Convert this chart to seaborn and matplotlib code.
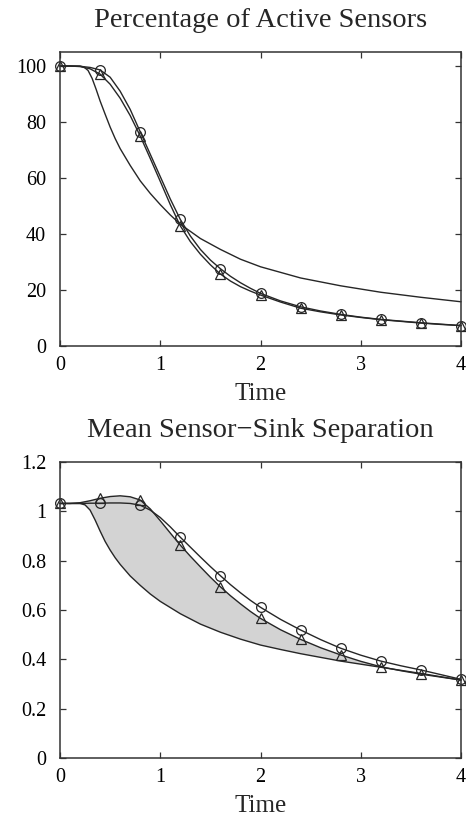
import numpy as np
import matplotlib
matplotlib.use("Agg")
import matplotlib.pyplot as plt
import seaborn as sns

# ---------------- data ----------------
t_grid = [0.0, 0.1, 0.2, 0.3, 0.4, 0.5, 0.6, 0.7, 0.8, 0.9, 1.0,
          1.1, 1.2, 1.3, 1.4, 1.5, 1.6, 1.7, 1.8, 1.9, 2.0,
          2.2, 2.4, 2.6, 2.8, 3.0, 3.2, 3.4, 3.6, 3.8, 4.0]
marker_times = [0.0, 0.4, 0.8, 1.2, 1.6, 2.0, 2.4, 2.8, 3.2, 3.6, 4.0]

# Top panel: percentage of active sensors
active_circle = [100, 100, 99.9, 99.5, 98.6, 96.0, 91.0, 84.5, 76.5, 68.5, 60.5,
                 52.5, 45.2, 39.3, 34.5, 30.7, 27.6, 24.9, 22.6, 20.6, 18.8,
                 16.1, 14.0, 12.5, 11.3, 10.3, 9.5, 8.9, 8.3, 7.8, 7.3]
active_triangle = [100, 100, 99.8, 99.0, 97.1, 93.5, 88.5, 82.3, 75.0, 67.0, 58.8,
                   50.5, 42.9, 37.3, 32.8, 29.0, 25.7, 23.2, 21.2, 19.6, 18.2,
                   15.7, 13.5, 12.2, 11.1, 10.2, 9.4, 8.8, 8.2, 7.7, 7.3]
t_plain_top = [0.0, 0.2, 0.24, 0.28, 0.32, 0.36, 0.4, 0.45, 0.5, 0.55, 0.6, 0.7, 0.8,
               0.9, 1.0, 1.1, 1.2, 1.4, 1.6, 1.8, 2.0, 2.4, 2.8, 3.2, 3.6, 4.0]
active_plain = [100, 100, 99.6, 98.4, 95.6, 91.7, 87.5, 82.8, 78.2, 74.1, 70.5, 64.5, 59.0,
                54.5, 50.5, 46.8, 43.5, 38.4, 34.5, 31.0, 28.3, 24.3, 21.5, 19.2, 17.4, 15.8]

# Bottom panel: mean sensor-sink separation
sep_circle = [1.032, 1.032, 1.032, 1.033, 1.033, 1.034, 1.034, 1.032, 1.025, 1.005, 0.975,
              0.937, 0.895, 0.855, 0.815, 0.776, 0.739, 0.703, 0.670, 0.639, 0.611,
              0.562, 0.519, 0.480, 0.445, 0.417, 0.393, 0.374, 0.357, 0.338, 0.319]
sep_triangle = [1.032, 1.032, 1.035, 1.043, 1.053, 1.060, 1.063, 1.059, 1.046, 1.010, 0.962,
                0.912, 0.863, 0.818, 0.775, 0.733, 0.694, 0.658, 0.625, 0.594, 0.566,
                0.520, 0.481, 0.447, 0.418, 0.392, 0.370, 0.354, 0.340, 0.328, 0.316]
t_plain_bot = [0.0, 0.2, 0.25, 0.3, 0.35, 0.4, 0.45, 0.5, 0.55, 0.6, 0.7, 0.8, 0.9, 1.0,
               1.2, 1.4, 1.6, 1.8, 2.0, 2.2, 2.4, 2.8, 3.2, 3.6, 4.0]
sep_plain = [1.032, 1.032, 1.026, 1.005, 0.965, 0.920, 0.878, 0.843, 0.812, 0.785, 0.738,
             0.700, 0.665, 0.635, 0.585, 0.543, 0.510, 0.482, 0.458, 0.440, 0.423, 0.393,
             0.368, 0.343, 0.316]

titles = ["Percentage of Active Sensors", "Mean Sensor\u2212Sink Separation"]
xlabel = "Time"
x_ticks = [0, 1, 2, 3, 4]
top_yticks = [0, 20, 40, 60, 80, 100]
bot_yticks = [0, 0.2, 0.4, 0.6, 0.8, 1.0, 1.2]
bot_yticklabels = ["0", "0.2", "0.4", "0.6", "0.8", "1", "1.2"]

# ---------------- style ----------------
sns.set_style("ticks")
plt.rcParams["font.family"] = ["Liberation Serif", "DejaVu Serif"]

LINE = "#262626"
fig = plt.figure(figsize=(4.66, 8.18), dpi=100)
ax1 = fig.add_axes([0.1288, 0.577, 0.8605, 0.3594])
ax2 = fig.add_axes([0.1288, 0.0733, 0.8605, 0.3619])

mark_idx = [t_grid.index(m) for m in marker_times]
mk = dict(markersize=7, markerfacecolor="none", markeredgecolor=LINE,
          markeredgewidth=0.9, markevery=mark_idx)


def style(ax):
    for s in ax.spines.values():
        s.set_visible(True)
        s.set_color("#333333")
        s.set_linewidth(1.1)
    ax.tick_params(direction="in", length=4, width=0.9, top=True, right=True,
                   colors="#333333", labelcolor="black", labelsize=14.5)
    ax.tick_params(axis="x", pad=7)
    ax.tick_params(axis="y", pad=10)
    ax.set_xlim(0, 4)
    ax.set_xticks(x_ticks)
    ax.set_xlabel(xlabel, fontsize=18, labelpad=6)


# top panel
sns.lineplot(x=t_plain_top, y=active_plain, ax=ax1, color=LINE, lw=1.0)
sns.lineplot(x=t_grid, y=active_triangle, ax=ax1, color=LINE, lw=1.0, marker="^", **mk)
sns.lineplot(x=t_grid, y=active_circle, ax=ax1, color=LINE, lw=1.0, marker="o", **mk)
style(ax1)
ax1.set_ylim(0, 105)
ax1.set_yticks(top_yticks)
ax1.set_title(titles[0], fontsize=20.5, pad=18)
ax1.set_ylabel("")

# bottom panel
poly_x = np.concatenate([t_grid, t_plain_bot[::-1]])
poly_y = np.concatenate([sep_triangle, sep_plain[::-1]])
ax2.fill(poly_x, poly_y, color="#d3d3d3", lw=0, zorder=1)
sns.lineplot(x=t_plain_bot, y=sep_plain, ax=ax2, color=LINE, lw=1.0)
sns.lineplot(x=t_grid, y=sep_triangle, ax=ax2, color=LINE, lw=1.0, marker="^", **mk)
sns.lineplot(x=t_grid, y=sep_circle, ax=ax2, color=LINE, lw=1.0, marker="o", **mk)
style(ax2)
ax2.set_ylim(0, 1.2)
ax2.set_yticks(bot_yticks)
ax2.set_yticklabels(bot_yticklabels)
ax2.set_title(titles[1], fontsize=20.5, pad=18)
ax2.set_ylabel("")

for ax in (ax1, ax2):
    for line in ax.get_lines():
        line.set_clip_on(False)

fig.savefig("out.png", dpi=100)
